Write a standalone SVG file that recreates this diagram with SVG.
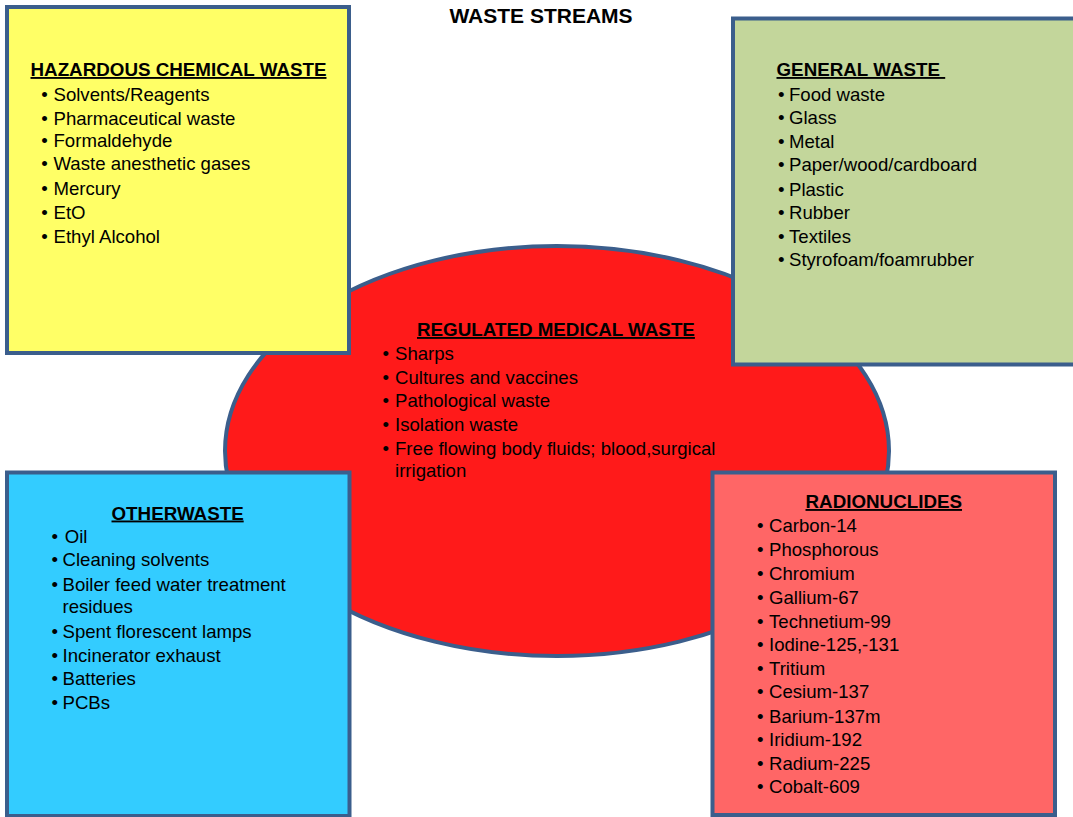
<svg xmlns="http://www.w3.org/2000/svg" width="1073" height="817" viewBox="0 0 1073 817">
<style>
.box{stroke:#3B5E8C;stroke-width:4}
text{font-family:"Liberation Sans",Arial,sans-serif;font-size:18.6px;fill:#000}
.ttl{font-weight:bold;font-size:18.8px;text-decoration:underline}
.main{font-weight:bold;font-size:21px}
</style>
<rect width="1073" height="817" fill="#fff"/>
<text class="main" x="541" y="23" text-anchor="middle">WASTE STREAMS</text>
<g id="regulated-medical-waste">
<ellipse class="box" cx="557" cy="451" rx="332" ry="205" fill="#FF1A1A"/>
<text class="ttl" x="417" y="336">REGULATED MEDICAL WASTE</text>
<g>
<text x="382.5" y="360">•</text><text x="395" y="360">Sharps</text>
<text x="382.5" y="383.5">•</text><text x="395" y="383.5">Cultures and vaccines</text>
<text x="382.5" y="407">•</text><text x="395" y="407">Pathological waste</text>
<text x="382.5" y="431">•</text><text x="395" y="431">Isolation waste</text>
<text x="382.5" y="455">•</text><text x="395" y="455">Free flowing body fluids; blood,surgical</text>
<text x="395" y="477">irrigation</text>
</g>
</g>
<g id="hazardous-chemical-waste">
<rect class="box" x="7" y="7" width="342" height="346" fill="#FFFF66"/>
<text class="ttl" x="30.5" y="76">HAZARDOUS CHEMICAL WASTE</text>
<text x="41.3" y="101">•</text><text x="53.5" y="101">Solvents/Reagents</text>
<text x="41.3" y="124.5">•</text><text x="53.5" y="124.5">Pharmaceutical waste</text>
<text x="41.3" y="147">•</text><text x="53.5" y="147">Formaldehyde</text>
<text x="41.3" y="170">•</text><text x="53.5" y="170">Waste anesthetic gases</text>
<text x="41.3" y="195">•</text><text x="53.5" y="195">Mercury</text>
<text x="41.3" y="218.5">•</text><text x="53.5" y="218.5">EtO</text>
<text x="41.3" y="242.5">•</text><text x="53.5" y="242.5">Ethyl Alcohol</text>
</g>
<g id="general-waste">
<rect class="box" x="733" y="18.5" width="345" height="346" fill="#C3D69B"/>
<text class="ttl" x="776.5" y="76" style="white-space:pre">GENERAL WASTE </text>
<text x="778" y="100.5">•</text><text x="789" y="100.5">Food waste</text>
<text x="778" y="124">•</text><text x="789" y="124">Glass</text>
<text x="778" y="148">•</text><text x="789" y="148">Metal</text>
<text x="778" y="171">•</text><text x="789" y="171">Paper/wood/cardboard</text>
<text x="778" y="196">•</text><text x="789" y="196">Plastic</text>
<text x="778" y="219">•</text><text x="789" y="219">Rubber</text>
<text x="778" y="243">•</text><text x="789" y="243">Textiles</text>
<text x="778" y="266">•</text><text x="789" y="266">Styrofoam/foamrubber</text>
</g>
<g id="other-waste">
<rect class="box" x="7" y="472.5" width="342.5" height="343.5" fill="#33CCFF"/>
<text class="ttl" x="111.5" y="519.5">OTHERWASTE</text>
<text x="51.5" y="543">•</text><text x="64.7" y="543">Oil</text>
<text x="51.5" y="566">•</text><text x="62.5" y="566">Cleaning solvents</text>
<text x="51.5" y="591">•</text><text x="62.5" y="591">Boiler feed water treatment</text>
<text x="62.5" y="613">residues</text>
<text x="51.5" y="638">•</text><text x="62.5" y="638">Spent florescent lamps</text>
<text x="51.5" y="662">•</text><text x="62.5" y="662">Incinerator exhaust</text>
<text x="51.5" y="685">•</text><text x="62.5" y="685">Batteries</text>
<text x="51.5" y="708.5">•</text><text x="62.5" y="708.5">PCBs</text>
</g>
<g id="radionuclides">
<rect class="box" x="712.5" y="472.5" width="342.5" height="342.5" fill="#FF6666"/>
<text class="ttl" x="805.5" y="508">RADIONUCLIDES</text>
<text x="757" y="532">•</text><text x="769" y="532">Carbon-14</text>
<text x="757" y="555.5">•</text><text x="769" y="555.5">Phosphorous</text>
<text x="757" y="579.5">•</text><text x="769" y="579.5">Chromium</text>
<text x="757" y="603.5">•</text><text x="769" y="603.5">Gallium-67</text>
<text x="757" y="627.5">•</text><text x="769" y="627.5">Technetium-99</text>
<text x="757" y="650.5">•</text><text x="769" y="650.5">Iodine-125,-131</text>
<text x="757" y="674.5">•</text><text x="769" y="674.5">Tritium</text>
<text x="757" y="697.5">•</text><text x="769" y="697.5">Cesium-137</text>
<text x="757" y="722.5">•</text><text x="769" y="722.5">Barium-137m</text>
<text x="757" y="745.5">•</text><text x="769" y="745.5">Iridium-192</text>
<text x="757" y="769.5">•</text><text x="769" y="769.5">Radium-225</text>
<text x="757" y="792.5">•</text><text x="769" y="792.5">Cobalt-609</text>
</g>
<g id="connectors"/>
</svg>
